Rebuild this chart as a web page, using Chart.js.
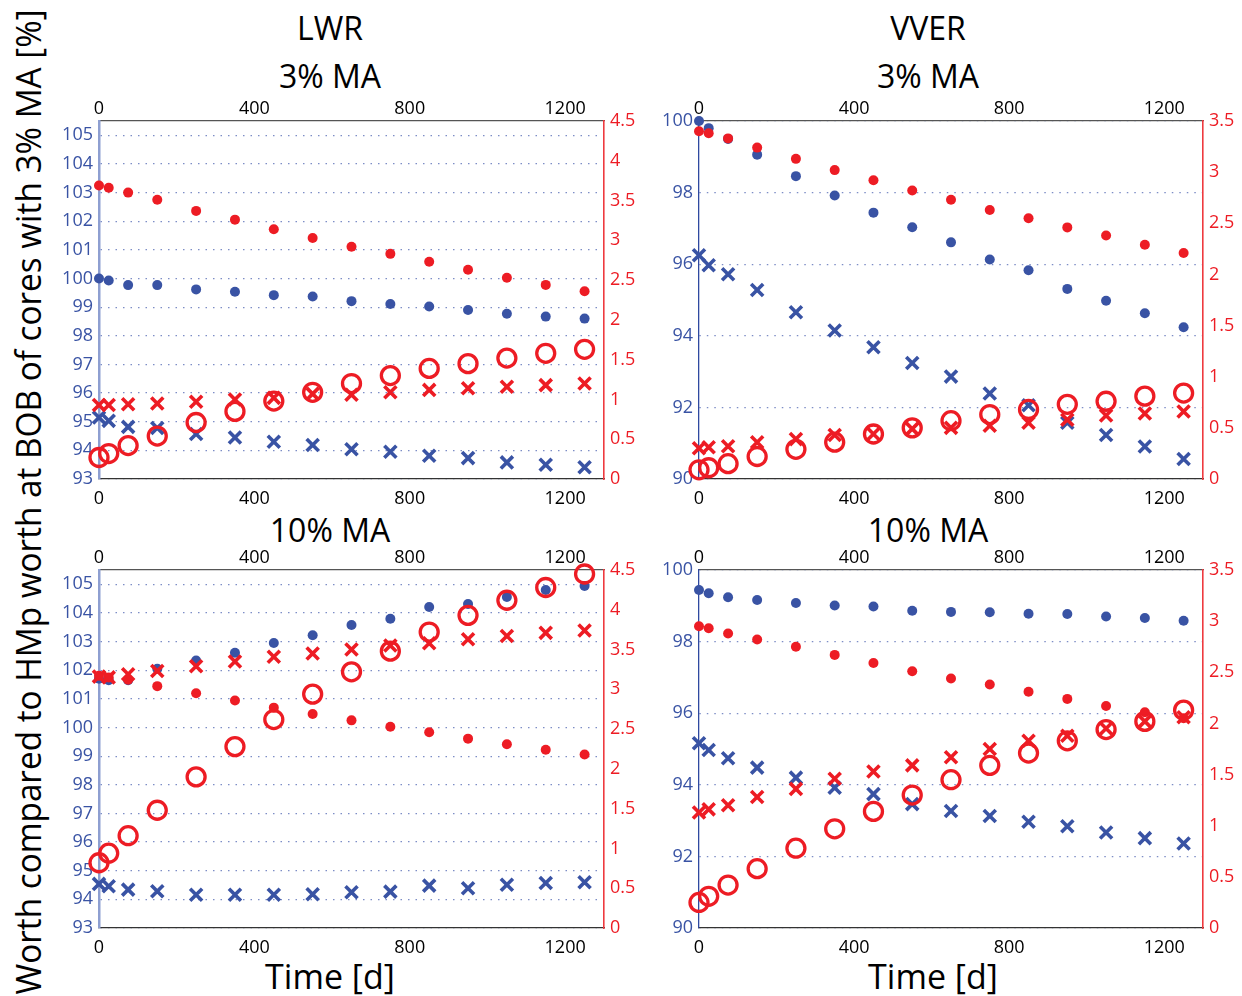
<!DOCTYPE html>
<html>
<head>
<meta charset="utf-8">
<script src="https://cdn.jsdelivr.net/npm/chart.js@4.4.1/dist/chart.umd.min.js"></script>
<style>
body{margin:0;background:#fff;width:1242px;height:996px;position:relative;overflow:hidden;font-family:"Open Sans",sans-serif;}
canvas{position:absolute;}
.t{position:absolute;transform:translate(-50%,-50%);font-size:32px;color:#000;white-space:nowrap;line-height:1;}
#ylab{position:absolute;left:28px;top:502px;font-size:34px;white-space:nowrap;line-height:1;transform:translate(-50%,-50%) rotate(-90deg);}
</style>
</head>
<body>
<div class="t" style="left:330px;top:28px">LWR</div>
<div class="t" style="left:330px;top:76px">3% MA</div>
<div class="t" style="left:928px;top:28px">VVER</div>
<div class="t" style="left:928px;top:76px">3% MA</div>
<div class="t" style="left:330px;top:530px">10% MA</div>
<div class="t" style="left:928px;top:530px">10% MA</div>
<div class="t" style="left:330px;top:976px;font-size:34px">Time [d]</div>
<div class="t" style="left:933px;top:976px;font-size:34px">Time [d]</div>
<div id="ylab">Worth compared to HMp worth at BOB of cores with 3% MA [%]</div>
<canvas id="tl" width="630" height="425" style="left:40px;top:90px"></canvas>
<canvas id="tr" width="600" height="425" style="left:640px;top:90px"></canvas>
<canvas id="bl" width="630" height="425" style="left:40px;top:540px"></canvas>
<canvas id="br" width="600" height="425" style="left:640px;top:540px"></canvas>
<script>
const days = [0,25,75,150,250,350,450,550,650,750,850,950,1050,1150,1250];
const xTicks = [0,400,800,1200];

// LWR, 3% MA
const lwr3BlueDot = [100.0,99.93,99.77,99.77,99.62,99.54,99.42,99.37,99.21,99.11,99.02,98.90,98.77,98.67,98.60];
const lwr3BlueX   = [95.15,95.03,94.82,94.78,94.57,94.45,94.30,94.19,94.04,93.95,93.81,93.73,93.58,93.50,93.41];
const lwr3RedDot  = [3.69,3.66,3.60,3.51,3.37,3.26,3.14,3.03,2.92,2.83,2.73,2.63,2.53,2.44,2.36];
const lwr3RedX    = [0.93,0.93,0.94,0.95,0.97,1.00,1.02,1.07,1.06,1.09,1.12,1.14,1.16,1.18,1.20];
const lwr3RedO    = [0.27,0.32,0.42,0.54,0.71,0.85,0.98,1.09,1.20,1.30,1.39,1.45,1.52,1.58,1.63];

// VVER, 3% MA
const vver3BlueDot = [100.0,99.80,99.5,99.06,98.46,97.92,97.44,97.03,96.61,96.13,95.83,95.31,94.98,94.63,94.24];
const vver3BlueX   = [96.25,95.97,95.72,95.28,94.66,94.15,93.68,93.24,92.86,92.39,92.06,91.57,91.23,90.91,90.56];
const vver3RedDot  = [3.40,3.38,3.33,3.24,3.13,3.02,2.92,2.82,2.73,2.63,2.55,2.46,2.38,2.29,2.21];
const vver3RedX    = [0.30,0.31,0.32,0.36,0.39,0.43,0.44,0.49,0.50,0.52,0.55,0.58,0.62,0.64,0.66];
const vver3RedO    = [0.09,0.11,0.15,0.22,0.29,0.36,0.44,0.50,0.57,0.63,0.68,0.73,0.76,0.81,0.84];

// LWR, 10% MA
const lwr10BlueDot = [101.7,101.65,101.65,102.05,102.34,102.61,102.95,103.22,103.58,103.80,104.21,104.31,104.56,104.80,104.94];
const lwr10BlueX   = [94.54,94.46,94.34,94.28,94.16,94.16,94.16,94.18,94.25,94.27,94.48,94.39,94.51,94.57,94.60];
const lwr10RedDot  = [3.17,3.15,3.12,3.04,2.95,2.86,2.77,2.69,2.61,2.53,2.46,2.38,2.31,2.24,2.18];
const lwr10RedX    = [3.16,3.15,3.19,3.23,3.29,3.35,3.41,3.45,3.50,3.55,3.58,3.63,3.67,3.71,3.74];
const lwr10RedO    = [0.82,0.94,1.16,1.48,1.90,2.28,2.62,2.94,3.22,3.48,3.72,3.93,4.12,4.28,4.45];

// VVER, 10% MA
const vver10BlueDot = [99.44,99.35,99.24,99.16,99.08,99.01,98.98,98.86,98.83,98.82,98.78,98.77,98.70,98.66,98.58];
const vver10BlueX   = [95.16,94.97,94.74,94.48,94.20,93.92,93.74,93.46,93.27,93.13,92.97,92.84,92.67,92.51,92.36];
const vver10RedDot  = [2.95,2.93,2.88,2.82,2.75,2.67,2.59,2.51,2.44,2.38,2.31,2.24,2.17,2.11,2.05];
const vver10RedX    = [1.13,1.16,1.20,1.28,1.36,1.46,1.53,1.59,1.67,1.75,1.83,1.88,1.95,2.02,2.06];
const vver10RedO    = [0.25,0.31,0.42,0.58,0.78,0.97,1.14,1.30,1.45,1.59,1.71,1.83,1.94,2.02,2.13];

const BLUE = '#3953a4', RED = '#ed1c24';
const FONT = {family:'"Open Sans", sans-serif', size:18};

// stretch the long y label to the height of the figure
const yl = document.getElementById('ylab');
yl.style.transform = 'translate(-50%,-50%) rotate(-90deg) scaleX(' + (985 / yl.offsetWidth) + ')';

const pts = ys => ys.map((y,i) => ({x:days[i], y:y}));

function sets(blueDot, blueX, redDot, redX, redO){
  // first dataset is drawn on top
  return [
    {data:pts(redO), yAxisID:'y2', clip:false, pointStyle:'circle', pointRadius:9, borderWidth:3.3, borderColor:RED, backgroundColor:'rgba(0,0,0,0)'},
    {data:pts(redX), yAxisID:'y2', clip:false, pointStyle:'crossRot', pointRadius:8.5, borderWidth:3.6, borderColor:RED, backgroundColor:RED},
    {data:pts(redDot), yAxisID:'y2', clip:false, pointStyle:'circle', pointRadius:5, borderWidth:0, backgroundColor:RED},
    {data:pts(blueX), yAxisID:'y', clip:false, pointStyle:'crossRot', pointRadius:8.5, borderWidth:3.6, borderColor:BLUE, backgroundColor:BLUE},
    {data:pts(blueDot), yAxisID:'y', clip:false, pointStyle:'circle', pointRadius:5, borderWidth:0, backgroundColor:BLUE}
  ];
}

function panel(id, area, yMin, yMax, yStep, y2Max, leftCol, leftW, datasets){
  const cv = document.getElementById(id);
  const W = cv.width, H = cv.height;
  const xs = pos => ({
    type:'linear', position:pos, min:0, max:1300,
    afterBuildTicks: s => { s.ticks = xTicks.map(v => ({value:v})); },
    afterFit: s => { s.height = pos === 'top' ? area.t : H - area.b; },
    ticks:{color:'#000', font:FONT, padding: pos === 'top' ? -7 : 1, maxRotation:0, autoSkip:false, callback: v => String(v)},
    grid:{display:false},
    border:{color: pos === 'top' ? '#555' : '#333', width:1.3}
  });
  new Chart(cv, {
    type:'scatter',
    data:{datasets:datasets},
    options:{
      responsive:false, animation:false,
      layout:{padding:0},
      plugins:{legend:{display:false}, tooltip:{enabled:false}},
      scales:{
        x: xs('bottom'),
        x2: xs('top'),
        y:{
          position:'left', min:yMin, max:yMax,
          afterFit: s => { s.width = area.l; },
          ticks:{stepSize:yStep, includeBounds:false, color:BLUE, font:FONT, padding:6},
          grid:{color:'#7d8dc6', lineWidth:1.2, drawTicks:false},
          border:{color:leftCol, width:leftW, dash:[1.5,6]}
        },
        y2:{
          position:'right', min:0, max:y2Max,
          afterFit: s => { s.width = W - area.r; },
          ticks:{stepSize:0.5, includeBounds:false, color:RED, font:FONT, padding:6, callback: v => String(v)},
          grid:{drawOnChartArea:false, drawTicks:false},
          border:{color:'#ee3a3f', width:1.6}
        }
      }
    }
  });
}

panel('tl', {l:59, t:31, r:564, b:389}, 93, 105.5, 1, 4.5, '#8e9fd1', 2.5,
  sets(lwr3BlueDot, lwr3BlueX, lwr3RedDot, lwr3RedX, lwr3RedO));
panel('tr', {l:59, t:31, r:563, b:389}, 90, 100, 2, 3.5, '#2f49a0', 1.3,
  sets(vver3BlueDot, vver3BlueX, vver3RedDot, vver3RedX, vver3RedO));
panel('bl', {l:59, t:30, r:564, b:388}, 93, 105.5, 1, 4.5, '#8e9fd1', 2.5,
  sets(lwr10BlueDot, lwr10BlueX, lwr10RedDot, lwr10RedX, lwr10RedO));
panel('br', {l:59, t:30, r:563, b:388}, 90, 100, 2, 3.5, '#2f49a0', 1.3,
  sets(vver10BlueDot, vver10BlueX, vver10RedDot, vver10RedX, vver10RedO));
</script>
</body>
</html>
